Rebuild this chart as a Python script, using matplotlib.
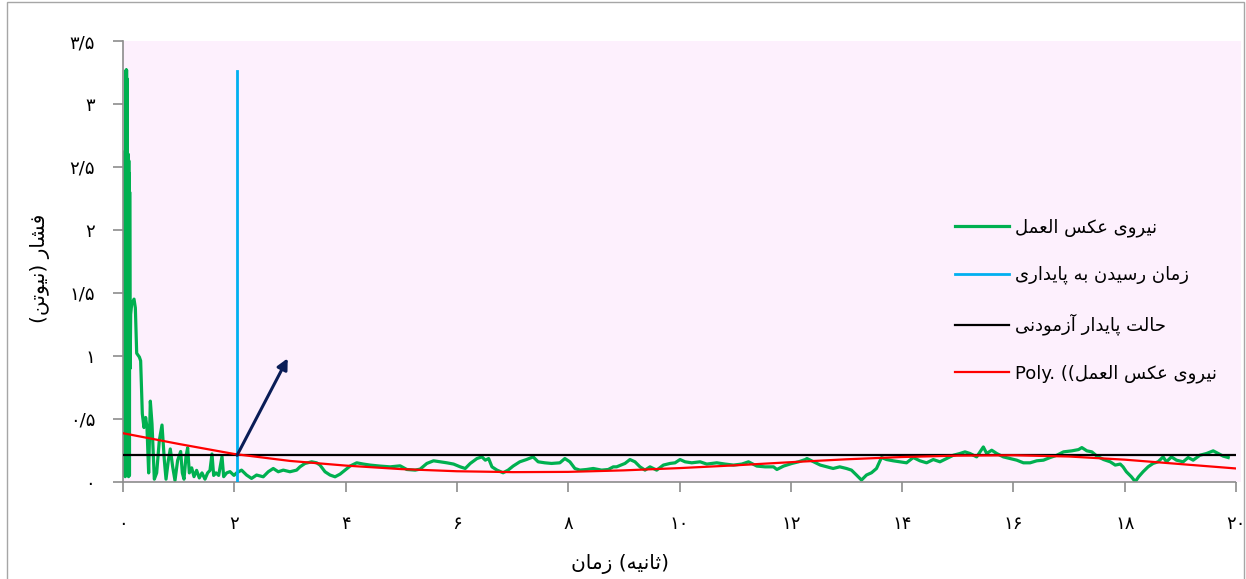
import matplotlib
matplotlib.use("Agg")
import matplotlib.pyplot as plt
from matplotlib.patches import Rectangle
from matplotlib.ticker import FixedLocator, FixedFormatter

plt.rcParams['font.family'] = ['DejaVu Sans']
plt.rcParams['path.simplify'] = False

# ---------------- data ----------------
force_t = [0.000, 0.004, 0.008, 0.012, 0.016, 0.020, 0.024, 0.028, 0.032, 0.036,
           0.040, 0.044, 0.048, 0.052, 0.056, 0.060, 0.064, 0.068, 0.072, 0.076,
           0.080, 0.084, 0.088, 0.092, 0.096, 0.100, 0.104, 0.108, 0.112, 0.116,
           0.120, 0.128,
           0.138, 0.156, 0.198, 0.222, 0.246, 0.294, 0.317, 0.347, 0.377, 0.407,
           0.431, 0.461, 0.491, 0.521, 0.563, 0.605, 0.653, 0.701, 0.743, 0.773,
           0.815, 0.850, 0.892, 0.934, 0.982, 1.036, 1.066, 1.096, 1.132, 1.162,
           1.192, 1.234, 1.276, 1.323, 1.371, 1.419, 1.473, 1.521, 1.563, 1.599,
           1.629, 1.671, 1.719, 1.779, 1.809, 1.863, 1.922, 1.994, 2.042,
           2.13, 2.22, 2.31, 2.40, 2.52, 2.61, 2.70, 2.79, 2.88, 3.00,
           3.12, 3.18, 3.27, 3.39, 3.48, 3.54, 3.63, 3.72, 3.81, 3.90,
           3.99, 4.08, 4.20, 4.32, 4.44, 4.62, 4.80, 4.98, 5.10, 5.25,
           5.34, 5.46, 5.58, 5.70, 5.82, 5.94, 6.06, 6.15, 6.24, 6.36,
           6.45, 6.51, 6.57, 6.63, 6.72, 6.83, 6.92, 7.01, 7.13, 7.25,
           7.37, 7.46, 7.58, 7.70, 7.85, 7.94, 8.03, 8.12, 8.21, 8.33,
           8.45, 8.60, 8.72, 8.81, 8.87, 9.02, 9.11, 9.20, 9.29, 9.38,
           9.47, 9.59, 9.71, 9.83, 9.92, 10.01, 10.10, 10.22, 10.37, 10.49,
           10.67, 10.82, 10.97, 11.12, 11.24, 11.39, 11.54, 11.69, 11.75, 11.87,
           12.02, 12.14, 12.26, 12.29, 12.41, 12.53, 12.65, 12.76, 12.88, 13.00,
           13.09, 13.18, 13.27, 13.36, 13.45, 13.54, 13.63, 13.72, 13.84, 13.96,
           14.08, 14.20, 14.32, 14.44, 14.56, 14.68, 14.80, 14.92, 15.04, 15.13,
           15.22, 15.34, 15.46, 15.52, 15.61, 15.70, 15.82, 15.94, 16.06, 16.18,
           16.30, 16.42, 16.54, 16.66, 16.78, 16.90, 17.05, 17.17, 17.23, 17.32,
           17.41, 17.50, 17.62, 17.74, 17.83, 17.92, 17.97, 18.03, 18.12, 18.19,
           18.25, 18.33, 18.42, 18.51, 18.60, 18.69, 18.75, 18.84, 18.93, 19.05,
           19.14, 19.23, 19.35, 19.47, 19.59, 19.68, 19.77, 19.86]
force_v = [0.35, 2.60, 0.06, 2.58, 0.05, 2.62, 0.08, 2.60, 0.05, 2.55,
           0.04, 2.62, 0.07, 2.60, 3.27, 0.10, 3.27, 0.06, 3.20, 0.08,
           2.60, 0.05, 2.58, 0.07, 2.60, 0.04, 2.55, 0.06, 2.45, 0.05,
           2.30, 0.90,
           1.33, 1.41, 1.45, 1.38, 1.02, 0.99, 0.96, 0.54, 0.43, 0.51,
           0.43, 0.07, 0.64, 0.46, 0.02, 0.07, 0.33, 0.45, 0.17, 0.02,
           0.17, 0.26, 0.12, 0.01, 0.17, 0.24, 0.07, 0.02, 0.20, 0.27,
           0.07, 0.11, 0.04, 0.09, 0.03, 0.07, 0.02, 0.07, 0.09, 0.22,
           0.05, 0.07, 0.05, 0.20, 0.04, 0.07, 0.08, 0.05, 0.07,
           0.092, 0.053, 0.026, 0.053, 0.039, 0.079, 0.105, 0.079, 0.092, 0.079,
           0.092, 0.118, 0.145, 0.158, 0.150, 0.132, 0.079, 0.053, 0.039, 0.060,
           0.092, 0.124, 0.150, 0.140, 0.132, 0.124, 0.118, 0.126, 0.097, 0.092,
           0.100, 0.145, 0.166, 0.158, 0.150, 0.140, 0.118, 0.105, 0.145, 0.184,
           0.197, 0.171, 0.184, 0.118, 0.092, 0.071, 0.092, 0.124, 0.158, 0.176,
           0.197, 0.158, 0.150, 0.145, 0.150, 0.184, 0.158, 0.105, 0.092, 0.097,
           0.105, 0.092, 0.097, 0.118, 0.118, 0.145, 0.176, 0.158, 0.118, 0.092,
           0.118, 0.092, 0.132, 0.145, 0.150, 0.176, 0.158, 0.150, 0.158, 0.140,
           0.150, 0.140, 0.132, 0.140, 0.158, 0.124, 0.118, 0.118, 0.097, 0.124,
           0.145, 0.158, 0.176, 0.184, 0.158, 0.132, 0.118, 0.105, 0.118, 0.105,
           0.092, 0.053, 0.013, 0.053, 0.071, 0.105, 0.192, 0.176, 0.166, 0.158,
           0.150, 0.192, 0.166, 0.150, 0.176, 0.158, 0.184, 0.210, 0.224, 0.237,
           0.224, 0.197, 0.276, 0.224, 0.250, 0.224, 0.197, 0.184, 0.171, 0.150,
           0.150, 0.166, 0.171, 0.192, 0.210, 0.237, 0.245, 0.255, 0.271, 0.245,
           0.237, 0.203, 0.176, 0.158, 0.132, 0.140, 0.118, 0.079, 0.039, 0.000,
           0.039, 0.079, 0.118, 0.145, 0.158, 0.197, 0.158, 0.197, 0.171, 0.158,
           0.192, 0.171, 0.210, 0.224, 0.245, 0.224, 0.203, 0.192]

steady_t = [0.0, 20.0]
steady_v = [0.21, 0.21]

reach_t = [2.05, 2.05]
reach_v = [0.0, 3.26]

poly_t = [0, 1, 2, 3, 4, 5, 6, 7, 8, 9, 10,
          11, 12, 13, 14, 15, 16, 17, 18, 19, 20]
poly_v = [0.385, 0.300, 0.220, 0.165, 0.128, 0.100, 0.083, 0.076, 0.078, 0.090, 0.108,
          0.130, 0.155, 0.178, 0.196, 0.207, 0.210, 0.200, 0.175, 0.140, 0.105]

arrow_start = (2.05, 0.21)
arrow_end = (2.96, 0.98)

x_ticks = [0, 2, 4, 6, 8, 10, 12, 14, 16, 18, 20]
x_tick_labels = ['۰', '۲', '۴', '۶', '۸', '۱۰', '۱۲', '۱۴', '۱۶', '۱۸', '۲۰']
y_ticks = [0, 0.5, 1, 1.5, 2, 2.5, 3, 3.5]
y_tick_labels = ['۰', '۰/۵', '۱', '۱/۵', '۲', '۲/۵', '۳', '۳/۵']

name_force = 'نیروی عکس العمل'
name_reach = 'زمان رسیدن به پایداری'
name_steady = 'حالت پایدار آزمودنی'
x_word1, x_word2 = 'زمان', 'ثانیه'
y_word1, y_word2 = 'فشار', 'نیوتن'

# ---------------- Arabic-script shaping (presentation forms) ----------------
FORMS = {
    'ا': ('\uFE8D', '\uFE8E', None, None),
    'آ': ('\uFE81', '\uFE82', None, None),
    'ب': ('\uFE8F', '\uFE90', '\uFE91', '\uFE92'),
    'پ': ('\uFB56', '\uFB57', '\uFB58', '\uFB59'),
    'ت': ('\uFE95', '\uFE96', '\uFE97', '\uFE98'),
    'ث': ('\uFE99', '\uFE9A', '\uFE9B', '\uFE9C'),
    'ح': ('\uFEA1', '\uFEA2', '\uFEA3', '\uFEA4'),
    'د': ('\uFEA9', '\uFEAA', None, None),
    'ر': ('\uFEAD', '\uFEAE', None, None),
    'ز': ('\uFEAF', '\uFEB0', None, None),
    'س': ('\uFEB1', '\uFEB2', '\uFEB3', '\uFEB4'),
    'ش': ('\uFEB5', '\uFEB6', '\uFEB7', '\uFEB8'),
    'ع': ('\uFEC9', '\uFECA', '\uFECB', '\uFECC'),
    'ف': ('\uFED1', '\uFED2', '\uFED3', '\uFED4'),
    'ک': ('\uFB8E', '\uFB8F', '\uFB90', '\uFB91'),
    'ل': ('\uFEDD', '\uFEDE', '\uFEDF', '\uFEE0'),
    'م': ('\uFEE1', '\uFEE2', '\uFEE3', '\uFEE4'),
    'ن': ('\uFEE5', '\uFEE6', '\uFEE7', '\uFEE8'),
    'ه': ('\uFEE9', '\uFEEA', '\uFEEB', '\uFEEC'),
    'و': ('\uFEED', '\uFEEE', None, None),
    'ی': ('\uFBFC', '\uFBFD', '\uFBFE', '\uFBFF'),
}


def shape(s):
    out = []
    for i, c in enumerate(s):
        if c not in FORMS:
            out.append(c)
            continue
        prev = s[i - 1] if i > 0 else ''
        nxt = s[i + 1] if i + 1 < len(s) else ''
        jp = prev in FORMS and FORMS[prev][2] is not None
        jn = FORMS[c][2] is not None and nxt in FORMS
        f = FORMS[c]
        if jp and jn:
            out.append(f[3])
        elif jp:
            out.append(f[1])
        elif jn:
            out.append(f[2])
        else:
            out.append(f[0])
    return ''.join(out)


def rtl(s):
    r = shape(s)[::-1]
    return r.translate(str.maketrans('()', ')('))


# ---------------- figure ----------------
W, H = 1246, 579
fig = plt.figure(figsize=(W / 100, H / 100), dpi=100)
fig.patch.set_facecolor('white')

x0p, x1p, y0p, y1p = 123, 1236, 481.7, 41
ax = fig.add_axes([x0p / W, 1 - y0p / H, (x1p - x0p) / W, (y0p - y1p) / H])
pink = '#fdf0fd'
ax.set_facecolor(pink)
fig.patches.append(Rectangle((x1p / W, 1 - y0p / H), 5 / W, (y0p - y1p) / H,
                             transform=fig.transFigure, facecolor=pink,
                             edgecolor='none', zorder=0))
fig.patches.append(Rectangle((7 / W, -0.01), (1244 - 7) / W, 1.0 - 2 / H + 0.01,
                             transform=fig.transFigure, facecolor='none',
                             edgecolor='#a6a6a6', lw=1.0, zorder=5))

l_force, = ax.plot(force_t, force_v, color='#00b050', lw=2.3, zorder=2,
                   solid_joinstyle='round')
l_reach, = ax.plot(reach_t, reach_v, color='#00b0f0', lw=2.0, zorder=3)
l_steady, = ax.plot(steady_t, steady_v, color='black', lw=1.6, zorder=3)
l_poly, = ax.plot(poly_t, poly_v, color='#ff0000', lw=1.6, zorder=4)

ax.annotate('', xy=arrow_end, xytext=arrow_start,
            arrowprops=dict(arrowstyle='-|>', color='#0a1d57', lw=2.2,
                            mutation_scale=16, shrinkA=0, shrinkB=0),
            zorder=6)

ax.set_xlim(0, 20)
ax.set_ylim(0, 3.5)
ax.xaxis.set_major_locator(FixedLocator(x_ticks))
ax.xaxis.set_major_formatter(FixedFormatter(x_tick_labels))
ax.yaxis.set_major_locator(FixedLocator(y_ticks))
ax.yaxis.set_major_formatter(FixedFormatter(y_tick_labels))

for side in ('top', 'right'):
    ax.spines[side].set_visible(False)
for side in ('left', 'bottom'):
    ax.spines[side].set_color('#8c8c8c')
    ax.spines[side].set_linewidth(1.2)
ax.tick_params(axis='x', direction='out', length=7, width=1.2, color='#8c8c8c',
               labelsize=13, pad=17)
ax.tick_params(axis='y', direction='out', length=7, width=1.2, color='#8c8c8c',
               labelsize=13, pad=13)

xlabel = rtl(x_word1) + ' (' + rtl(x_word2) + ')'
ylabel = '(' + rtl(y_word2) + ') ' + rtl(y_word1)
fig.text(620 / W, 1 - 564 / H, xlabel, ha='center', va='center', fontsize=14.5)
fig.text(40 / W, 1 - 268 / H, ylabel, ha='center', va='center', fontsize=14.5,
         rotation=90)

labels = [rtl(name_force), rtl(name_reach), rtl(name_steady),
          'Poly. ((' + rtl(name_force)]
leg = ax.legend([l_force, l_reach, l_steady, l_poly], labels,
                loc='upper left', bbox_to_anchor=(955 / W, 1 - 218 / H),
                bbox_transform=fig.transFigure, frameon=False, fontsize=13,
                handlelength=3.0, handletextpad=0.35, labelspacing=1.62,
                borderpad=0, borderaxespad=0)

fig.savefig('out.png', dpi=100)
